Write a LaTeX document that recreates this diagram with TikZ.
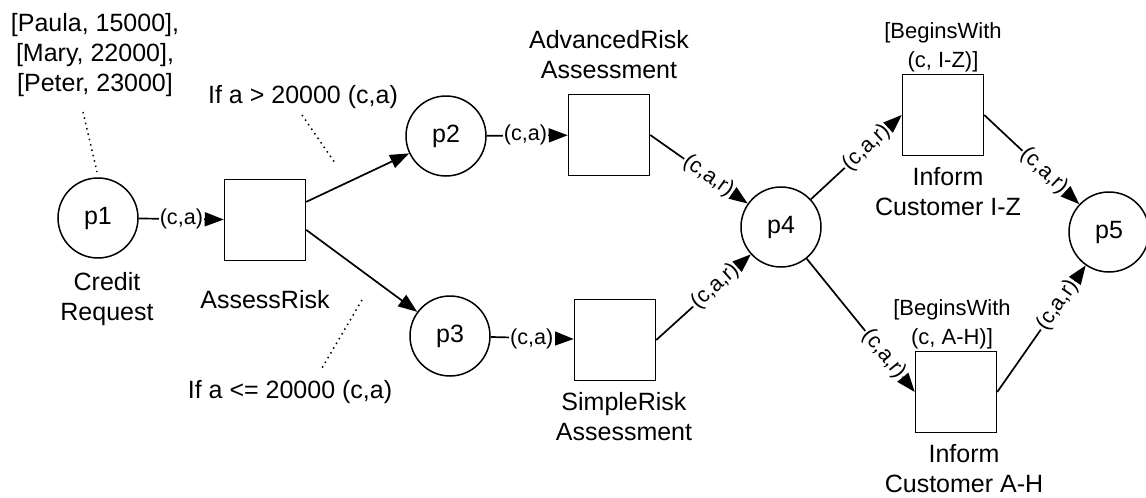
\documentclass[tikz,border=0pt]{standalone}
\usepackage{fontspec}
\setmainfont{Liberation Sans}
\usetikzlibrary{arrows.meta,calc}
\begin{document}
\begin{tikzpicture}[x=0.5pt,y=-0.5pt,
  place/.style={draw,circle,line width=0.75pt,minimum size=40pt,inner sep=0pt,font=\fontsize{12.5}{15}\selectfont},
  trans/.style={draw,rectangle,line width=0.75pt,minimum size=40.5pt,inner sep=0pt},
  lbl/.style={font=\fontsize{12.5}{15}\selectfont,align=center,inner sep=0pt},
  guard/.style={font=\fontsize{11}{14.5}\selectfont,align=center,inner sep=0pt},
  arc/.style={line width=0.85pt,-{Triangle[length=9.5pt,width=7pt]}},
  ins/.style={font=\fontsize{10.8}{13}\selectfont,fill=white,inner sep=0.6pt,anchor=east},
  note/.style={dotted,line width=0.75pt}]
\useasboundingbox (0,0) rectangle (1146,498);
% places
\node[place] (p1) at (98,218) {p1};
\node[place] (p2) at (446,136) {p2};
\node[place] (p3) at (450,336) {p3};
\node[place] (p4) at (781,227) {p4};
\node[place] (p5) at (1109,232) {p5};
% transitions
\node[trans] (ar) at (265,220) {};
\node[trans] (adv) at (609,135) {};
\node[trans] (sim) at (615,340) {};
\node[trans] (iz) at (943,115) {};
\node[trans] (ah) at (956,392) {};
% texts
\node[lbl] (tok) at (95,55) {{[Paula, 15000],}\\{[Mary, 22000],}\\{[Peter, 23000]}};
\node[lbl] (crl) at (107,299) {Credit\\Request};
\node[lbl] (arl) at (265,300) {AssessRisk};
\node[lbl] (g1) at (303,97) {If a > 20000 (c,a)};
\node[lbl] (g2) at (290,392) {If a <= 20000 (c,a)};
\node[lbl] (advl) at (609,55) {AdvancedRisk\\Assessment};
\node[lbl] (siml) at (624,417) {SimpleRisk\\Assessment};
\node[guard] (izg) at (943,47) {{[BeginsWith}\\{(c, I-Z)]}};
\node[lbl] (izl) at (948,192) {Inform\\Customer I-Z};
\node[guard] (ahg) at (952,324) {{[BeginsWith}\\{(c, A-H)]}};
\node[lbl] (ahl) at (964,469) {Inform\\Customer A-H};
% dotted annotation lines
\coordinate (t1) at (83,112); \coordinate (t2) at (97,172);
\coordinate (u1) at (302,115); \coordinate (u2) at (335,163);
\coordinate (v1) at (362,300); \coordinate (v2) at (322,368);
\draw[note] (t1) -- (t2);
\draw[note] (u1) -- (u2);
\draw[note] (v1) -- (v2);
% arcs
\draw[arc] (p1) -- node[ins,pos=0.78]{(c,a)} (ar);
\draw[arc] ($(ar.north east)!0.28!(ar.south east)$) -- (p2);
\draw[arc] ($(ar.north east)!0.62!(ar.south east)$) -- (p3);
\draw[arc] (p2) -- node[ins,pos=0.77]{(c,a)} (adv);
\draw[arc] (p3) -- node[ins,pos=0.78]{(c,a)} (sim);
\draw[arc] (adv.east) -- node[ins,sloped,pos=0.85]{(c,a,r)} (p4);
\draw[arc] (sim.east) -- node[ins,sloped,pos=0.86]{(c,a,r)} (p4);
\draw[arc] (p4) -- node[ins,sloped,pos=0.855]{(c,a,r)} (iz.west);
\draw[arc] (iz.east) -- node[ins,sloped,pos=0.86]{(c,a,r)} (p5);
\draw[arc] (p4) -- node[ins,sloped,pos=0.89]{(c,a,r)} (ah.west);
\draw[arc] (ah.east) -- node[ins,sloped,pos=0.88]{(c,a,r)} (p5);
\end{tikzpicture}
\end{document}
